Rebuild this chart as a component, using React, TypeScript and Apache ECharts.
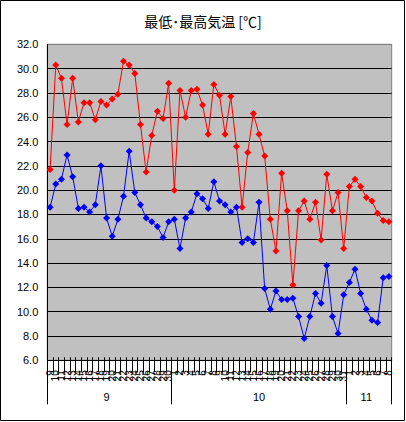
import { useEffect, useRef } from "react";
import * as echarts from "echarts";

const chartTitle = "最低･最高気温 [℃]";
const monthNames = ["9", "10", "11"];
const monthFirstDay = [9, 1, 1];
const monthLastDay = [30, 31, 8];

const maxTemps = [
  21.7, 30.3, 29.2, 25.4, 29.2, 25.6, 27.2, 27.2, 25.8, 27.3, 27.0, 27.5, 27.9, 30.6, 30.3, 29.6,
  25.4, 21.5, 24.5, 26.5, 25.9, 28.8, 20.0, 28.2, 26.0, 28.2, 28.3, 27.0, 24.6, 28.7, 27.8,
  24.6, 27.7, 23.6, 18.6, 23.1, 26.3, 24.6, 22.8, 17.6, 15.0, 21.4, 18.3, 12.2, 18.3, 19.1,
  17.6, 19.0, 15.9, 21.3, 18.3, 19.8, 15.2, 20.3, 20.9, 20.3, 19.4, 19.1, 18.1, 17.5, 17.4,
];

const minTemps = [
  18.6, 20.5, 20.9, 22.9, 21.1, 18.5, 18.6, 18.2, 18.8, 22.0, 17.7, 16.2, 17.6, 19.5, 23.2, 19.8,
  18.8, 17.7, 17.4, 17.0, 16.1, 17.4, 17.6, 15.2, 17.7, 18.2, 19.7, 19.3, 18.5, 20.7, 19.1,
  18.8, 18.2, 18.6, 15.7, 16.0, 15.7, 19.0, 11.9, 10.2, 11.7, 11.0, 11.0, 11.1, 9.6, 7.8,
  9.6, 11.5, 10.7, 13.8, 9.6, 8.2, 11.4, 12.4, 13.5, 11.5, 10.2, 9.3, 9.1, 12.8, 12.9,
];

const yMin = 6;
const yMax = 32;
const yStep = 2;

const dayLabels: string[] = [];
const monthOfDay: number[] = [];
const monthStart: number[] = [];
const monthMid: number[] = [];
monthNames.forEach((_, k) => {
  const start = dayLabels.length;
  const count = monthLastDay[k] - monthFirstDay[k] + 1;
  monthStart.push(start);
  monthMid.push(start + Math.floor((count - 1) / 2));
  for (let d = monthFirstDay[k]; d <= monthLastDay[k]; d++) {
    dayLabels.push(String(d));
    monthOfDay.push(k);
  }
});
const monthAxisData = monthOfDay.map((k) => monthNames[k]);

export default function App() {
  const ref = useRef<HTMLDivElement>(null);
  useEffect(() => {
    if (!ref.current) return;
    const chart = echarts.init(ref.current, undefined, { renderer: "svg" });
    const lineCount = (yMax - yMin) / yStep + 1;
    const splitColors = Array.from({ length: lineCount }, (_, i) =>
      i === lineCount - 1 ? "#808080" : "#000000"
    );
    const font = "'Liberation Sans', Arial, sans-serif";
    chart.setOption({
      animation: false,
      backgroundColor: "#ffffff",
      title: {
        text: chartTitle,
        left: "center",
        top: 14,
        padding: 0,
        textStyle: {
          fontSize: 14,
          fontWeight: "normal",
          color: "#000",
          fontFamily: "'Noto Sans CJK JP', sans-serif",
        },
      },
      grid: {
        left: 47.3,
        top: 44.3,
        right: 14.3,
        bottom: 61.7,
        show: true,
        backgroundColor: "#C0C0C0",
        borderColor: "#808080",
        borderWidth: 1,
      },
      xAxis: [
        {
          type: "category",
          position: "bottom",
          data: dayLabels,
          boundaryGap: true,
          axisLine: { show: true, onZero: false, lineStyle: { color: "#000", width: 1 } },
          axisTick: { show: true, interval: 0, length: 12, lineStyle: { color: "#000" } },
          axisLabel: {
            interval: 0,
            rotate: 90,
            fontSize: 10,
            margin: 10,
            color: "#000",
            fontFamily: font,
            hideOverlap: false,
          },
          splitLine: { show: false },
        },
        {
          type: "category",
          position: "bottom",
          data: monthAxisData,
          boundaryGap: true,
          axisLine: { show: false, onZero: false },
          axisTick: {
            show: true,
            length: 44,
            interval: (index: number) => monthStart.includes(index),
            lineStyle: { color: "#000" },
          },
          axisLabel: {
            interval: (index: number) => monthMid.includes(index),
            fontSize: 11,
            margin: 31,
            color: "#000",
            fontFamily: font,
          },
          splitLine: { show: false },
        },
        {
          type: "category",
          position: "bottom",
          data: dayLabels,
          boundaryGap: true,
          axisLine: { show: false, onZero: false },
          axisTick: { show: true, inside: true, interval: 0, length: 3, lineStyle: { color: "#000" } },
          axisLabel: { show: false },
          splitLine: { show: false },
        },
      ],
      yAxis: {
        type: "value",
        min: yMin,
        max: yMax,
        interval: yStep,
        axisLine: { show: true, lineStyle: { color: "#000", width: 1 } },
        axisTick: { show: false },
        axisLabel: {
          formatter: (v: number) => v.toFixed(1),
          fontSize: 11,
          margin: 9,
          color: "#000",
          fontFamily: font,
        },
        splitLine: { show: true, lineStyle: { color: splitColors, width: 1 } },
      },
      series: [
        {
          name: "最高",
          type: "line",
          xAxisIndex: 0,
          data: maxTemps,
          symbol: "diamond",
          symbolSize: 7,
          showAllSymbol: true,
          itemStyle: { color: "#FF0000" },
          lineStyle: { color: "#FF0000", width: 1 },
        },
        {
          name: "最低",
          type: "line",
          xAxisIndex: 0,
          data: minTemps,
          symbol: "diamond",
          symbolSize: 7,
          showAllSymbol: true,
          itemStyle: { color: "#0000FF" },
          lineStyle: { color: "#0000FF", width: 1 },
        },
      ],
      graphic: [
        {
          type: "rect",
          silent: true,
          z: 100,
          shape: { x: 0.5, y: 0.5, width: 404, height: 420 },
          style: { fill: "none", stroke: "#000", lineWidth: 1 },
        },
      ],
    });
    return () => chart.dispose();
  }, []);
  return (
    <div
      ref={ref}
      style={{ position: "fixed", left: 0, top: 0, width: 406, height: 422 }}
    />
  );
}
